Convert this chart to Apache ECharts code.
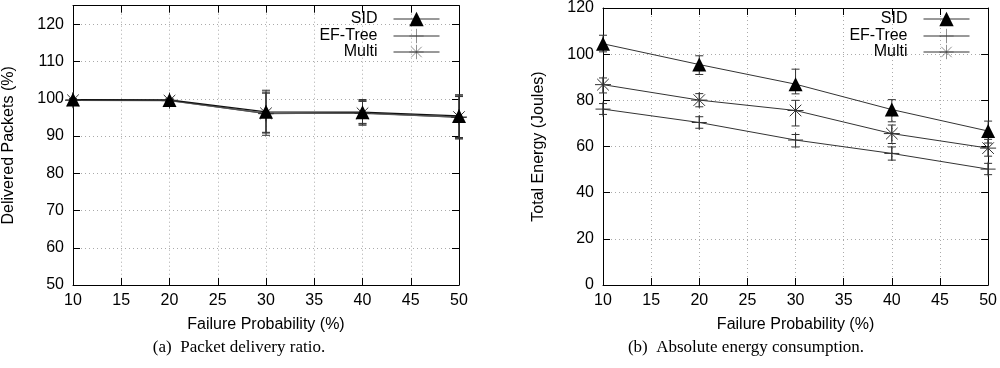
<!DOCTYPE html>
<html><head><meta charset="utf-8">
<script src="https://cdn.jsdelivr.net/npm/echarts@6/dist/echarts.min.js"></script>
<style>html,body{margin:0;padding:0;background:#fff}#c{width:1000px;height:368px}</style>
</head><body><div id="c"></div><script>
// ---- data ----
const failureProb = [10, 20, 30, 40, 50];
const seriesNames = ['SID', 'EF-Tree', 'Multi'];
// (a) Packet delivery ratio (%)
const pdrSID      = [99.8, 99.7, 96.5, 96.4, 95.4];
const pdrSIDLow   = [99.5, 99.4, 90.2, 92.9, 89.2];
const pdrSIDHigh  = [100.0, 100.0, 102.3, 99.8, 101.1];
const pdrEF       = [99.7, 99.6, 96.0, 96.2, 95.0];
const pdrEFLow    = [99.4, 99.3, 91.0, 93.4, 89.6];
const pdrEFHigh   = [100.0, 99.9, 101.5, 99.3, 100.6];
const pdrMulti    = [99.6, 99.5, 96.1, 96.1, 95.1];
const pdrMultiLow = [99.3, 99.2, 90.8, 93.2, 89.4];
const pdrMultiHigh= [99.9, 99.8, 101.8, 99.5, 100.8];
// (b) Total energy (Joules)
const enSID       = [104.5, 95.5, 87.0, 76.0, 66.7];
const enSIDLow    = [101.0, 91.2, 82.8, 70.7, 61.5];
const enSIDHigh   = [108.2, 99.3, 93.5, 80.3, 71.0];
const enEF        = [76.2, 70.4, 62.8, 57.0, 50.2];
const enEFLow     = [73.9, 67.9, 59.8, 54.1, 47.8];
const enEFHigh    = [78.6, 72.9, 65.2, 59.8, 52.7];
const enMulti     = [86.8, 80.1, 75.6, 65.6, 59.3];
const enMultiLow  = [83.2, 77.2, 68.9, 61.3, 55.8];
const enMultiHigh = [89.7, 82.9, 80.0, 69.3, 63.1];
const pdrTicks = [50, 60, 70, 80, 90, 100, 110, 120];
const enTicks  = [0, 20, 40, 60, 80, 100, 120];

// ---- styling ----
const SANS = 'Liberation Sans, Arial, Helvetica, sans-serif';
const SERIF = 'Liberation Serif, Times New Roman, serif';
const LINE = '#333';
const FS = 16;
const symbols = {
  'SID': 'triangle',
  'EF-Tree': 'path://M8,0L8,16M0,8L16,8',
  'Multi': 'path://M8,0L8,16M0,8L16,8M2.2,2.2L13.8,13.8M2.2,13.8L13.8,2.2'
};
const symSize = { 'SID': 14, 'EF-Tree': 15, 'Multi': 16 };

function lineSeries(name, vals, gi, lineColor, lw) {
  const filled = name === 'SID';
  return {
    type: 'line', name: name, xAxisIndex: gi * 2, yAxisIndex: gi * 2,
    data: failureProb.map((x, i) => [x, vals[i]]),
    symbol: symbols[name], symbolSize: symSize[name], showSymbol: true,
    clip: false, z: 3,
    lineStyle: { color: lineColor, width: lw },
    itemStyle: filled ? { color: '#000', borderColor: '#000', borderWidth: 0 }
                      : { color: 'rgba(0,0,0,0)', borderColor: LINE, borderWidth: 1 },
    emphasis: { disabled: true }
  };
}
function errSeries(tag, lows, highs, gi) {
  return {
    type: 'custom', name: tag, xAxisIndex: gi * 2, yAxisIndex: gi * 2, silent: true, z: 2,
    data: failureProb.map((x, i) => [x, lows[i], highs[i]]),
    renderItem: function (params, api) {
      const x = api.value(0);
      const lo = api.coord([x, api.value(1)]);
      const hi = api.coord([x, api.value(2)]);
      const w = 4;
      const st = { stroke: LINE, lineWidth: 1 };
      return { type: 'group', children: [
        { type: 'line', shape: { x1: lo[0], y1: lo[1], x2: hi[0], y2: hi[1] }, style: st },
        { type: 'line', shape: { x1: lo[0] - w, y1: lo[1], x2: lo[0] + w, y2: lo[1] }, style: st },
        { type: 'line', shape: { x1: hi[0] - w, y1: hi[1], x2: hi[0] + w, y2: hi[1] }, style: st }
      ]};
    }
  };
}
function xAxes(gi) {
  const base = {
    type: 'value', gridIndex: gi, min: 10, max: 50, interval: 5,
    axisLine: { show: true, onZero: false, lineStyle: { color: '#000', width: 1 } },
    axisTick: { show: true, inside: true, length: 7, lineStyle: { color: '#000' } }
  };
  return [
    Object.assign({}, base, {
      position: 'bottom',
      axisLabel: { color: '#000', fontSize: FS, fontFamily: SANS, margin: 8 },
      splitLine: { show: true, lineStyle: { color: '#aaa', type: [1, 3], width: 1 } },
      name: 'Failure Probability (%)', nameLocation: 'middle', nameGap: 32,
      nameTextStyle: { color: '#000', fontSize: FS, fontFamily: SANS }
    }),
    Object.assign({}, base, { position: 'top', axisLabel: { show: false }, splitLine: { show: false } })
  ];
}
function yAxes(gi, min, max, interval, name, ticks) {
  const base = {
    type: 'value', gridIndex: gi, min: min, max: max, interval: interval,
    axisLine: { show: true, onZero: false, lineStyle: { color: '#000', width: 1 } },
    axisTick: { show: true, inside: true, length: 7, lineStyle: { color: '#000' } }
  };
  return [
    Object.assign({}, base, {
      position: 'left',
      axisLabel: { color: '#000', fontSize: FS, fontFamily: SANS, margin: 9,
        formatter: v => ticks.indexOf(v) >= 0 ? String(v) : '' },
      splitLine: { show: true, lineStyle: { color: '#aaa', type: [1, 3], width: 1 } },
      name: name, nameLocation: 'middle', nameGap: 56, nameRotate: 90,
      nameTextStyle: { color: '#000', fontSize: FS, fontFamily: SANS }
    }),
    Object.assign({}, base, { position: 'right', axisLabel: { show: false }, splitLine: { show: false } })
  ];
}
function legends(rightPx) {
  const tops = [11, 28, 44];
  return seriesNames.map((n, i) => ({
    data: [n], orient: 'vertical', right: rightPx, top: tops[i], padding: 0,
    itemWidth: 46, itemHeight: 18, align: 'right', selectedMode: false,
    lineStyle: { width: 1, color: LINE },
    itemStyle: n === 'SID' ? { color: '#000', borderWidth: 0 }
                           : { color: 'rgba(0,0,0,0)', borderColor: '#444', borderWidth: 0.6 },
    textStyle: { color: '#000', fontSize: FS, fontFamily: SANS, padding: [0, 11, 0, 0] }
  }));
}

const chart = echarts.init(document.getElementById('c'), null, { renderer: 'canvas' });
chart.setOption({
  backgroundColor: '#fff',
  animation: false,
  grid: [
    { left: 72, right: 541, top: 5.7, bottom: 83 },
    { left: 603, right: 11, top: 6, bottom: 83 }
  ],
  xAxis: xAxes(0).concat(xAxes(1)),
  yAxis: yAxes(0, 50, 125, 10, 'Delivered Packets (%)', pdrTicks)
    .concat(yAxes(1, 0, 120, 20, 'Total Energy (Joules)', enTicks)),
  legend: legends(560).concat(legends(30)),
  title: [
    { text: '(a)  Packet delivery ratio.', left: 239, top: 339, textAlign: 'center', padding: 0,
      textStyle: { color: '#000', fontSize: 17, fontWeight: 'normal', fontFamily: SERIF } },
    { text: '(b)  Absolute energy consumption.', left: 746, top: 339, textAlign: 'center', padding: 0,
      textStyle: { color: '#000', fontSize: 17, fontWeight: 'normal', fontFamily: SERIF } }
  ],
  series: [
    errSeries('e1', pdrEFLow, pdrEFHigh, 0),
    errSeries('e2', pdrMultiLow, pdrMultiHigh, 0),
    errSeries('e3', pdrSIDLow, pdrSIDHigh, 0),
    lineSeries('EF-Tree', pdrEF, 0, '#555', 1.2),
    lineSeries('Multi', pdrMulti, 0, '#555', 1.2),
    lineSeries('SID', pdrSID, 0, '#111', 1.2),
    errSeries('e4', enEFLow, enEFHigh, 1),
    errSeries('e5', enMultiLow, enMultiHigh, 1),
    errSeries('e6', enSIDLow, enSIDHigh, 1),
    lineSeries('EF-Tree', enEF, 1, LINE, 1),
    lineSeries('Multi', enMulti, 1, LINE, 1),
    lineSeries('SID', enSID, 1, LINE, 1)
  ]
});
</script></body></html>
